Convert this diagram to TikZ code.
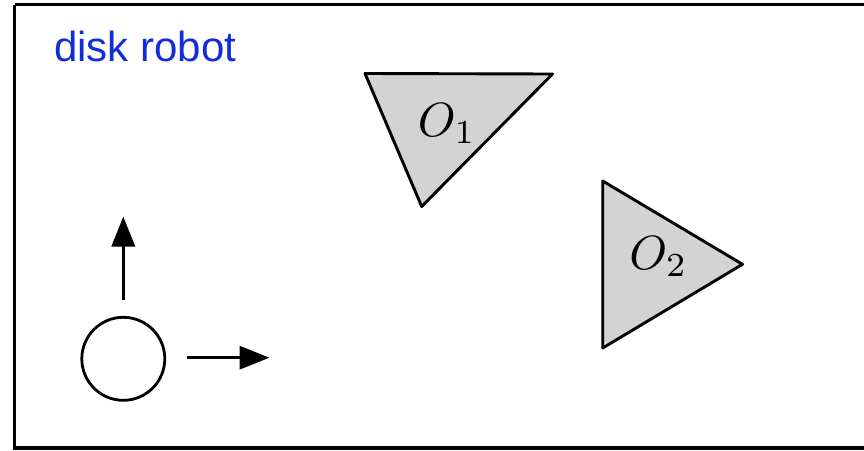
\documentclass[tikz,border=0pt]{standalone}
\usepackage{fontspec}
\newfontfamily\labelsans{Liberation Sans}
\usetikzlibrary{arrows.meta}
\definecolor{titleblue}{RGB}{18,44,218}
\definecolor{obstgray}{RGB}{211,211,211}
\tikzset{
  obst/.style={draw=black, fill=obstgray, line width=2.9pt, line join=round},
  motion/.style={line width=3.4pt, -{Triangle[length=30pt,width=23pt]}},
  olabel/.style={anchor=base west, inner sep=0pt, scale=4.8},
}
\begin{document}
\begin{tikzpicture}[x=1pt,y=-1pt]
\useasboundingbox (0,0) rectangle (864,450);
\begin{scope}
\clip (0,0) rectangle (864,450);
\draw[line width=3.4pt] (14.5,4.5) -- (900,4.5);
\draw[line width=3.4pt] (14.5,4.5) -- (14.5,447.8) -- (900,447.8);
\end{scope}
\node[anchor=base west, inner sep=0pt, text=titleblue, font=\labelsans\fontsize{42}{48}\selectfont] (title) at (54,61.7) {disk robot};
% obstacles
\draw[obst] (365,73.5) -- (552.5,74) -- (421.7,206.5) -- cycle;
\node[olabel] (o1) at (417,136.7) {$O_1$};
\draw[obst] (602.7,181) -- (742.5,264.3) -- (602.7,348) -- cycle;
\node[olabel] (o2) at (628.5,269) {$O_2$};
% robot
\node[draw, circle, line width=2.8pt, minimum size=83pt, inner sep=0pt] (robot) at (123.3,358.8) {};
\coordinate (upstart) at (123.3,300);
\coordinate (uptip) at (123.3,216.5);
\coordinate (rtstart) at (186.5,357.7);
\coordinate (rttip) at (269.5,357.7);
\draw[motion] (upstart) -- (uptip);
\draw[motion] (rtstart) -- (rttip);
\end{tikzpicture}
\end{document}
